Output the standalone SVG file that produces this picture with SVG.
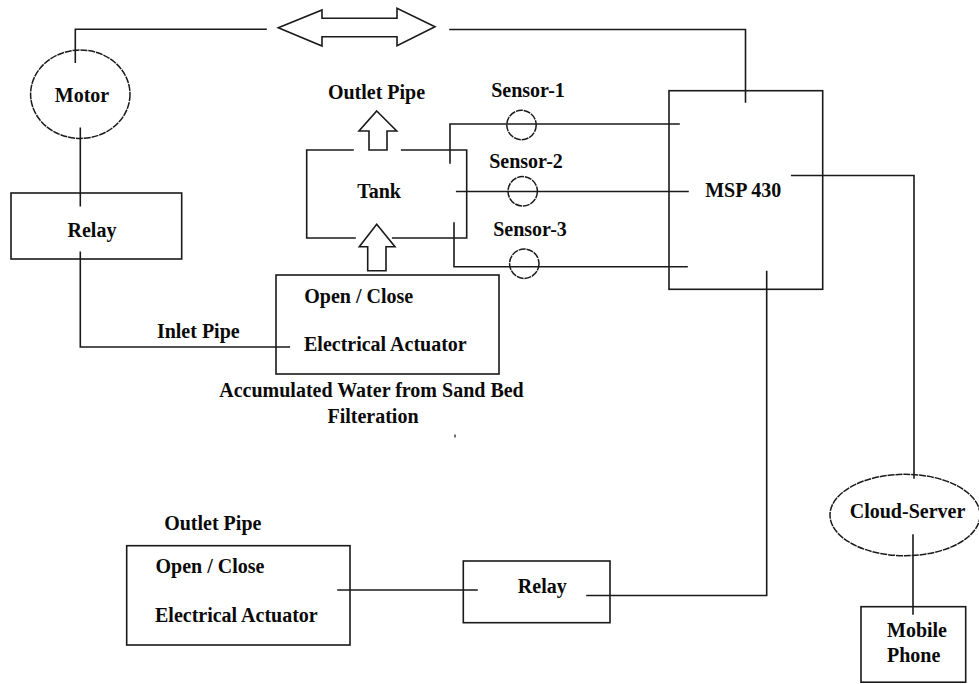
<svg xmlns="http://www.w3.org/2000/svg" width="979" height="684" viewBox="0 0 979 684">
<style>
.ln{fill:none;stroke:#1a1a1a;stroke-width:1.6;stroke-linecap:square}
.bx{fill:none;stroke:#1a1a1a;stroke-width:1.6}
.ov{fill:none;stroke:#1a1a1a;stroke-width:1.5;stroke-dasharray:7 0.9}
.t{font-family:"Liberation Serif","Times New Roman",serif;font-weight:bold;font-size:20px;fill:#0a0a0a}
.m{text-anchor:middle}
</style>
<rect width="979" height="684" fill="#fff"/>
<g id="connectors">
<polyline class="ln" points="75.3,62.3 75.3,29.3 266,29.3"/>
<polyline class="ln" points="450,29.5 745.5,29.5 745.5,102"/>
<polyline class="ln" points="80.3,128.3 80.3,205.7"/>
<polyline class="ln" points="80.3,252.3 80.3,347 289.3,347"/>
<polyline class="ln" points="450,163 450,124 679,124"/>
<polyline class="ln" points="456.7,191.5 688,191.5"/>
<polyline class="ln" points="454,223 454,266.7 687,266.7"/>
<polyline class="ln" points="791.7,175.5 914,175.5 914,478"/>
<polyline class="ln" points="913,535 913,614"/>
<polyline class="ln" points="766.7,271.5 766.7,595.5 587,595.5"/>
<polyline class="ln" points="338,590 477,590"/>
</g>
<g id="data-arrow">
<polygon class="bx" points="278.3,27.7 322,10 322,18.3 397,18.3 397,8.3 435,26.7 397,45.7 397,36.7 322,36.7 322,46"/>
</g>
<g id="motor">
<ellipse class="ov" cx="80.3" cy="94.2" rx="49.7" ry="44.2"/>
<text class="t m" x="82" y="101.7">Motor</text>
</g>
<g id="relay-1">
<rect class="bx" x="11" y="193" width="170.7" height="66"/>
<text class="t m" x="92" y="237">Relay</text>
</g>
<g id="inlet-label">
<text class="t m" x="198.3" y="337.7">Inlet Pipe</text>
</g>
<g id="tank">
<path class="ln" d="M353,150 H306.7 V238 H355 M392.7,238 H466.7 V150 H401.7"/>
<text class="t m" x="379" y="198">Tank</text>
</g>
<g id="outlet-arrow-top">
<polygon class="bx" points="376.7,111 396.7,131 387,131 387,150 369,150 369,131 359,131"/>
<text class="t m" x="376.5" y="99">Outlet Pipe</text>
</g>
<g id="inlet-arrow">
<polygon class="bx" points="376.7,224.3 395,246.7 386,246.7 386,270.7 367.7,270.7 367.7,246.7 359.3,246.7"/>
</g>
<g id="actuator-1">
<rect class="bx" x="276" y="275" width="223" height="99"/>
<text class="t" x="304.3" y="302.7">Open / Close</text>
<text class="t" x="304" y="350.7">Electrical Actuator</text>
</g>
<g id="water-label">
<text class="t m" x="371.5" y="397.3">Accumulated Water from Sand Bed</text>
<text class="t m" x="373" y="423.3">Filteration</text>
<rect x="454.3" y="434.5" width="1.4" height="3" fill="#333"/>
</g>
<g id="sensor-1">
<circle class="ov" cx="521.5" cy="125" r="14.7"/>
<text class="t m" x="528" y="97">Sensor-1</text>
</g>
<g id="sensor-2">
<circle class="ov" cx="522.7" cy="191.3" r="14.7"/>
<text class="t m" x="526" y="167.5">Sensor-2</text>
</g>
<g id="sensor-3">
<circle class="ov" cx="524.3" cy="263.7" r="14.7"/>
<text class="t m" x="530" y="236">Sensor-3</text>
</g>
<g id="msp430">
<rect class="bx" x="669" y="90.7" width="153.7" height="198.6"/>
<text class="t m" x="743.3" y="196.7">MSP 430</text>
</g>
<g id="cloud-server">
<ellipse class="ov" cx="905" cy="515" rx="75" ry="40.7"/>
<text class="t m" x="907.5" y="518">Cloud-Server</text>
</g>
<g id="mobile-phone">
<rect class="bx" x="861" y="606.7" width="104.7" height="75.5"/>
<text class="t" x="887" y="637.3">Mobile</text>
<text class="t" x="887" y="661.7">Phone</text>
</g>
<g id="actuator-2">
<text class="t m" x="212.8" y="530">Outlet Pipe</text>
<rect class="bx" x="126.7" y="545.7" width="223.3" height="99.3"/>
<text class="t" x="155.5" y="573.3">Open / Close</text>
<text class="t" x="155" y="621.7">Electrical Actuator</text>
</g>
<g id="relay-2">
<rect class="bx" x="463.3" y="561" width="146.7" height="61.7"/>
<text class="t m" x="542.3" y="593">Relay</text>
</g>
</svg>
